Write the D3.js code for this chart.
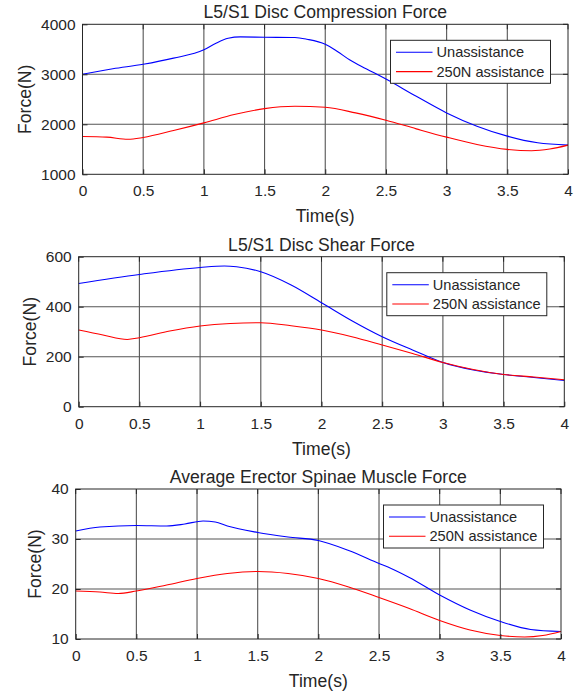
<!DOCTYPE html>
<html>
<head>
<meta charset="utf-8">
<script src="https://cdn.jsdelivr.net/npm/d3@7"></script>
<style>
  html, body { margin: 0; padding: 0; background: #fff; }
  svg { display: block; }
  text { font-family: "Liberation Sans", Arial, Helvetica, sans-serif; fill: #262626; }
</style>
</head>
<body>
<svg id="chart" width="582" height="696"></svg>
<script>
// ---------- data ----------
const xTicks = [0, 0.5, 1, 1.5, 2, 2.5, 3, 3.5, 4];
const xTickLabels = ["0", "0.5", "1", "1.5", "2", "2.5", "3", "3.5", "4"];
const seriesNames = ["Unassistance", "250N assistance"];
const seriesColors = ["#0000ff", "#ff0000"];

const titles = ["L5/S1 Disc Compression Force", "L5/S1 Disc Shear Force", "Average Erector Spinae Muscle Force"];
const xLabel = "Time(s)";
const yLabel = "Force(N)";

const yTicks1 = [1000, 2000, 3000, 4000];
const yTicks2 = [0, 200, 400, 600];
const yTicks3 = [10, 20, 30, 40];

// Compression force
const compT_un = [0, 0.25, 0.5, 0.75, 1.0, 1.1, 1.2, 1.3, 1.5, 1.75, 1.85, 2.0, 2.1, 2.2, 2.3, 2.5, 2.75, 3.0, 3.25, 3.5, 3.75, 4.0];
const compV_un = [3000, 3110, 3200, 3323, 3489, 3622, 3720, 3748, 3741, 3735, 3700, 3600, 3456, 3290, 3157, 2905, 2560, 2228, 1962, 1763, 1630, 1584];
const compT_as = [0, 0.2, 0.375, 0.5, 0.75, 1.0, 1.25, 1.5, 1.75, 2.0, 2.25, 2.5, 2.75, 3.0, 3.25, 3.5, 3.7, 3.85, 4.0];
const compV_as = [1755, 1743, 1700, 1737, 1876, 2029, 2195, 2314, 2360, 2340, 2228, 2082, 1909, 1743, 1597, 1498, 1471, 1505, 1584];

// Shear force
const shearT_un = [0, 0.5, 1.0, 1.2, 1.3, 1.5, 1.75, 2.0, 2.25, 2.5, 2.75, 3.0, 3.25, 3.5, 3.75, 4.0];
const shearV_un = [493, 529, 557, 563, 560, 540, 487, 416, 344, 280, 227, 177, 147, 129, 117, 105];
const shearT_as = [0, 0.2, 0.4, 0.5, 0.75, 1.0, 1.25, 1.5, 1.75, 2.0, 2.25, 2.5, 2.75, 3.0, 3.25, 3.5, 3.75, 4.0];
const shearV_as = [307, 287, 269, 276, 303, 323, 333, 336, 324, 307, 280, 247, 213, 177, 149, 129, 119, 108];

// Erector spinae muscle force
const muscT_un = [0, 0.2, 0.5, 0.75, 0.9, 1.05, 1.15, 1.25, 1.5, 1.75, 2.0, 2.25, 2.5, 2.6, 2.75, 3.0, 3.25, 3.5, 3.75, 4.0];
const muscV_un = [31.6, 32.4, 32.7, 32.6, 33.0, 33.6, 33.4, 32.6, 31.3, 30.4, 29.7, 27.7, 25.1, 24.1, 22.3, 18.8, 15.8, 13.5, 11.9, 11.5];
const muscT_as = [0, 0.2, 0.35, 0.5, 0.75, 1.0, 1.25, 1.5, 1.75, 2.0, 2.25, 2.5, 2.75, 3.0, 3.25, 3.5, 3.7, 3.85, 4.0];
const muscV_as = [19.6, 19.4, 19.1, 19.6, 20.8, 22.1, 23.1, 23.5, 23.1, 22.1, 20.4, 18.3, 16.1, 13.7, 11.8, 10.7, 10.4, 10.7, 11.5];

const zip = (ts, vs) => ts.map((t, i) => ({ t, v: vs[i] }));

const panels = [
  { title: titles[0], yDomain: [1000, 4000], yTicks: yTicks1,
    series: [zip(compT_un, compV_un), zip(compT_as, compV_as)],
    box: { x0: 82.5, x1: 568, y0: 24.3, y1: 174.3 } },
  { title: titles[1], yDomain: [0, 600], yTicks: yTicks2,
    series: [zip(shearT_un, shearV_un), zip(shearT_as, shearV_as)],
    box: { x0: 78.7, x1: 564.3, y0: 256.7, y1: 406.7 } },
  { title: titles[2], yDomain: [10, 40], yTicks: yTicks3,
    series: [zip(muscT_un, muscV_un), zip(muscT_as, muscV_as)],
    box: { x0: 75.7, x1: 561, y0: 489, y1: 639 } }
];

const svg = d3.select("#chart");
const tickFont = 15.5;
const legendFont = 14.6;
const labelFont = 17.6;
const axisCol = "#262626";
const gridCol = "#555555";

panels.forEach(p => {
  const b = p.box;
  const x = d3.scaleLinear().domain([0, 4]).range([b.x0, b.x1]);
  const y = d3.scaleLinear().domain(p.yDomain).range([b.y1, b.y0]);
  const g = svg.append("g");

  // grid
  g.append("g").selectAll("line").data(xTicks.slice(1, -1)).join("line")
    .attr("x1", d => x(d)).attr("x2", d => x(d)).attr("y1", b.y0).attr("y2", b.y1)
    .attr("stroke", gridCol).attr("stroke-width", 1.1);
  g.append("g").selectAll("line").data(p.yTicks.slice(1, -1)).join("line")
    .attr("y1", d => y(d)).attr("y2", d => y(d)).attr("x1", b.x0).attr("x2", b.x1)
    .attr("stroke", gridCol).attr("stroke-width", 1.1);

  // lines
  const line = d3.line().x(d => x(d.t)).y(d => y(d.v)).curve(d3.curveMonotoneX);
  p.series.forEach((s, i) => {
    g.append("path").datum(s).attr("d", line)
      .attr("fill", "none").attr("stroke", seriesColors[i]).attr("stroke-width", 1.1);
  });

  // axes (box with inward ticks)
  const bottomAxis = d3.axisBottom(x).tickValues(xTicks).tickFormat((d, i) => xTickLabels[i])
    .tickSizeInner(-5).tickSizeOuter(0).tickPadding(10);
  const ax = g.append("g").attr("transform", `translate(0,${b.y1})`).call(bottomAxis);
  ax.select(".domain").remove();
  ax.selectAll("line").attr("stroke", axisCol);
  ax.selectAll("text").attr("font-size", tickFont).attr("fill", axisCol)
    .attr("font-family", '"Liberation Sans", Arial, sans-serif').attr("dy", "0.71em").attr("y", 11);

  const leftAxis = d3.axisLeft(y).tickValues(p.yTicks).tickFormat(d3.format("d"))
    .tickSizeInner(-5).tickSizeOuter(0).tickPadding(8);
  const ay = g.append("g").attr("transform", `translate(${b.x0},0)`).call(leftAxis);
  ay.select(".domain").remove();
  ay.selectAll("line").attr("stroke", axisCol);
  ay.selectAll("text").attr("font-size", tickFont).attr("fill", axisCol)
    .attr("font-family", '"Liberation Sans", Arial, sans-serif').attr("x", -7);

  // right & top ticks
  g.append("g").selectAll("line").data(p.yTicks).join("line")
    .attr("x1", b.x1).attr("x2", b.x1 - 5).attr("y1", d => y(d)).attr("y2", d => y(d))
    .attr("stroke", axisCol);
  g.append("g").selectAll("line").data(xTicks).join("line")
    .attr("x1", d => x(d)).attr("x2", d => x(d)).attr("y1", b.y0).attr("y2", b.y0 + 5)
    .attr("stroke", axisCol);

  g.append("rect").attr("x", b.x0).attr("y", b.y0)
    .attr("width", b.x1 - b.x0).attr("height", b.y1 - b.y0)
    .attr("fill", "none").attr("stroke", axisCol).attr("stroke-width", 1);

  // title
  g.append("text").attr("x", (b.x0 + b.x1) / 2).attr("y", b.y0 - 12)
    .attr("text-anchor", "middle").attr("dominant-baseline", "central")
    .attr("font-size", labelFont).text(p.title);

  // x label
  g.append("text").attr("x", (b.x0 + b.x1) / 2).attr("y", b.y1 + 42)
    .attr("text-anchor", "middle").attr("dominant-baseline", "central")
    .attr("font-size", labelFont).text(xLabel);

  // y label
  let maxW = 0;
  ay.selectAll("text").each(function () { maxW = Math.max(maxW, this.getComputedTextLength()); });
  const yl = b.x0 - 7 - maxW - 16;
  g.append("text").attr("transform", `translate(${yl},${(b.y0 + b.y1) / 2}) rotate(-90)`)
    .attr("text-anchor", "middle").attr("dominant-baseline", "central")
    .attr("font-size", labelFont).text(yLabel);

  // legend
  const lw = 160, lh = 43;
  const lx = b.x1 - 17.5 - lw, ly = b.y0 + 16;
  const lg = g.append("g").attr("transform", `translate(${lx},${ly})`);
  lg.append("rect").attr("width", lw).attr("height", lh)
    .attr("fill", "#fff").attr("stroke", axisCol).attr("stroke-width", 1);
  seriesNames.forEach((n, i) => {
    const ry = 12 + i * 19.3;
    lg.append("line").attr("x1", 5.5).attr("x2", 42).attr("y1", ry).attr("y2", ry)
      .attr("stroke", seriesColors[i]).attr("stroke-width", 1.1);
    lg.append("text").attr("x", 46).attr("y", ry).attr("dominant-baseline", "central")
      .attr("font-size", legendFont).text(n);
  });
});
</script>
</body>
</html>
